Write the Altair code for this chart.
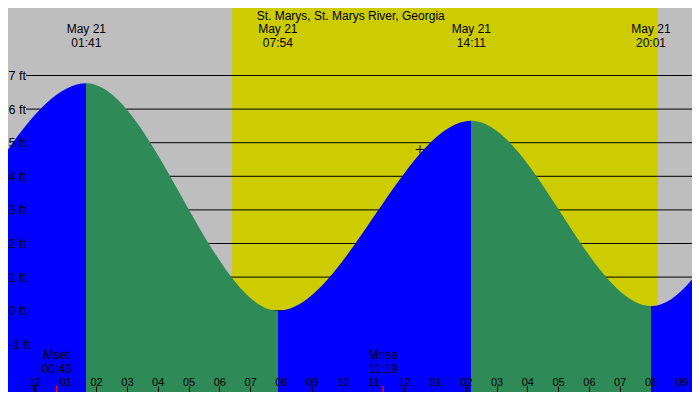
import altair as alt
import pandas as pd

BLUE = "#0000ff"
GREEN = "#2e8b57"
NIGHT = "#bebebe"
DAY = "#cccc00"
FONT = "Liberation Sans"

title_text = "St. Marys, St. Marys River, Georgia"

# tide turns; the first two and last two lie just outside the picture
tide_day = ["May 20", "May 20", "May 21", "May 21", "May 21", "May 21", "May 22", "May 22"]
tide_clock = ["11:30", "18:45", "01:41", "07:54", "14:11", "20:01", "02:12", "08:25"]
tide_ft = [6.2, 0.3, 6.77, 0.0, 5.65, 0.14, 6.8, 0.2]
tide_shown = [False, False, True, True, True, True, False, False]

sun_clock = ["06:25", "20:14"]  # sunrise, sunset
moon_name = ["Mset", "Mrise"]
moon_clock = ["00:43", "11:19"]
now_clock = ["12:31"]
now_ft = [4.8]

ft_ticks = [-1, 0, 1, 2, 3, 4, 5, 6, 7]
hour_ticks = list(range(-1, 22))

day_offset = {"May 20": -24, "May 21": 0, "May 22": 24}


def hours(day, clock):
    h, m = clock.split(":")
    return day_offset[day] + int(h) + int(m) / 60


tide = pd.DataFrame({
    "t": [hours(d, c) for d, c in zip(tide_day, tide_clock)],
    "ft": tide_ft,
    "day": tide_day,
    "clock": tide_clock,
    "shown": tide_shown,
})
turns = tide[tide["shown"]]

# rising water blue, falling water green: hard stops along the area
t0, t1 = tide["t"].iloc[0], tide["t"].iloc[-1]
stops = []
for i in range(len(tide) - 1):
    col = BLUE if tide["ft"].iloc[i + 1] > tide["ft"].iloc[i] else GREEN
    stops.append(alt.GradientStop(color=col, offset=(tide["t"].iloc[i] - t0) / (t1 - t0)))
    stops.append(alt.GradientStop(color=col, offset=(tide["t"].iloc[i + 1] - t0) / (t1 - t0)))
fill = alt.LinearGradient(gradient="linear", stops=stops, x1=0, x2=1, y1=0, y2=0)

W, H = 684, 384

xs = alt.Scale(domain=[-0.8604, 21.347], nice=False, zero=False)
ys = alt.Scale(domain=[-2.4196, 9.009], nice=False, zero=False)

xaxis = alt.Axis(
    orient="top", offset=-H, values=hour_ticks, title=None, domain=False, grid=False,
    tickSize=6, tickColor="black", tickWidth=1,
    labelExpr="pad(toString(((datum.value + 11) % 12 + 12) % 12 + 1), 2, '0', 'left')",
    labelFont=FONT, labelFontSize=11, labelColor="black", labelBaseline="alphabetic",
    labelPadding=0.5, labelFlush=False, labelOverlap=False, zindex=2)
yaxis = alt.Axis(
    orient="left", offset=0, values=ft_ticks, title=None, domain=False, grid=False,
    ticks=False, tickSize=0, labelExpr="datum.value + ' ft'",
    labelFont=FONT, labelFontSize=12.5, labelColor="black", labelBaseline="middle",
    labelAlign="left", labelPadding=0, labelFlush=False, labelOverlap=False, zindex=2)


def X(field):
    return alt.X(field, scale=xs, axis=xaxis)


def Y(field):
    return alt.Y(field, scale=ys, axis=yaxis, stack=None)


sun = pd.DataFrame({"rise": [hours("May 21", sun_clock[0])], "set": [hours("May 21", sun_clock[1])]})
daylight = alt.Chart(sun).mark_rect(color=DAY).encode(
    x=X("rise:Q"), x2="set:Q", y=alt.value(0), y2=alt.value(H),
)

grid = alt.Chart(pd.DataFrame({"ft": ft_ticks})).mark_rule(color="black", strokeWidth=1).encode(
    y=Y("ft:Q"), x=alt.value(18), x2=alt.value(W),
)

water = alt.Chart(tide).mark_area(color=fill, interpolate="monotone", clip=True, opacity=1).encode(
    x=X("t:Q"), y=Y("ft:Q"), y2=alt.value(H),
)

now = alt.Chart(pd.DataFrame({"t": [hours("May 21", c) for c in now_clock], "ft": now_ft})).mark_point(
    shape="M-1,0L1,0M0,-1L0,1", filled=False, color="black", strokeWidth=1, size=70, opacity=1
).encode(x=X("t:Q"), y=Y("ft:Q"))

turn_day = alt.Chart(turns).mark_text(font=FONT, fontSize=12, color="black", baseline="alphabetic").encode(
    x=X("t:Q"), y=alt.value(25), text="day:N")
turn_clock = alt.Chart(turns).mark_text(font=FONT, fontSize=12, color="black", baseline="alphabetic").encode(
    x=X("t:Q"), y=alt.value(38.5), text="clock:N")

title = alt.Chart(pd.DataFrame({"label": [title_text]})).mark_text(
    font=FONT, fontSize=12, color="black", baseline="alphabetic"
).encode(x=alt.value(342.7), y=alt.value(11.5), text="label:N")

moon = pd.DataFrame({"t": [hours("May 21", c) for c in moon_clock], "name": moon_name, "clock": moon_clock})
moon_ticks = alt.Chart(moon).mark_rule(color="red", strokeWidth=1.5).encode(
    x=X("t:Q"), y=alt.value(H - 6), y2=alt.value(H))
moon_name_txt = alt.Chart(moon).mark_text(font=FONT, fontSize=12, color="black", baseline="alphabetic").encode(
    x=X("t:Q"), y=alt.value(351), text="name:N")
moon_clock_txt = alt.Chart(moon).mark_text(font=FONT, fontSize=12, color="black", baseline="alphabetic").encode(
    x=X("t:Q"), y=alt.value(364.5), text="clock:N")

midnight = alt.Chart(pd.DataFrame({"t": [0]})).mark_rule(color="black", strokeWidth=3).encode(
    x=X("t:Q"), y=alt.value(H - 6), y2=alt.value(H))

chart = alt.layer(
    daylight, grid, water, now, turn_day, turn_clock, title,
    moon_ticks, moon_name_txt, moon_clock_txt, midnight,
).properties(
    width=W, height=H, padding=0, autosize=alt.AutoSizeParams(type="none"),
).configure_view(fill=NIGHT, stroke=None)

chart.save("out.html", embed_options={"renderer": "svg", "actions": False})
